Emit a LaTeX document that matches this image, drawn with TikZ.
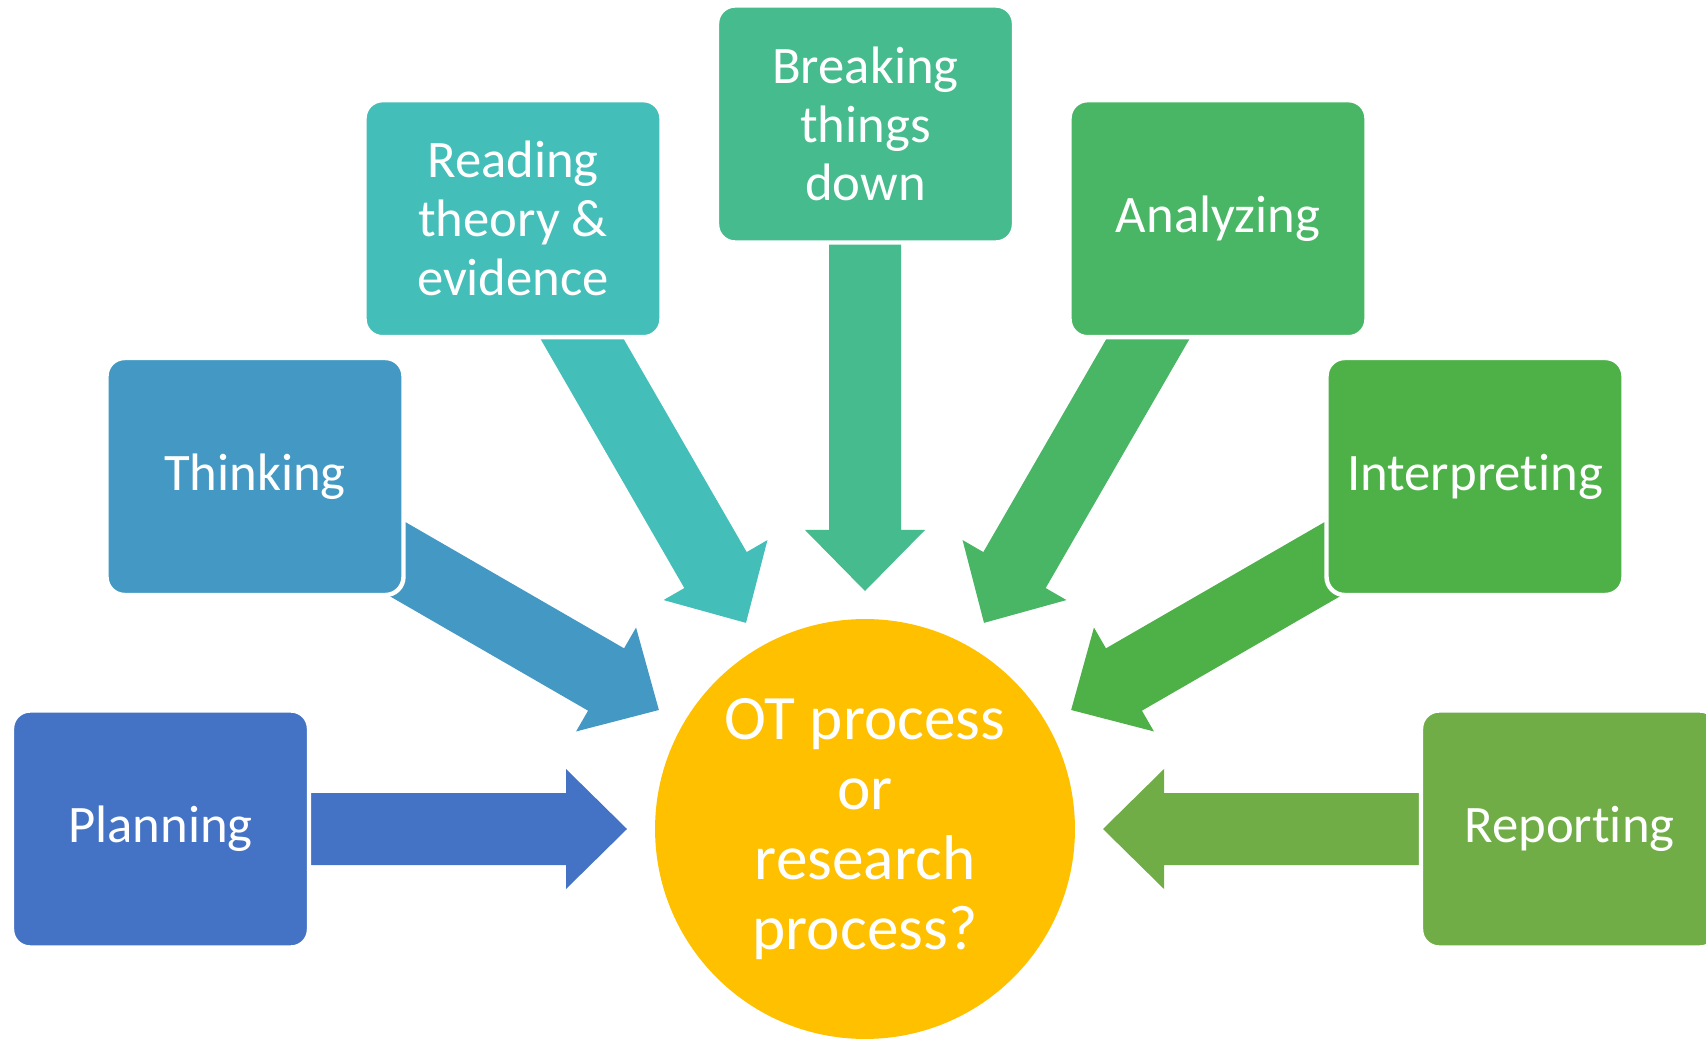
\documentclass[tikz,border=0pt]{standalone}
\usepackage{fontspec}
\setmainfont{Carlito}[Ligatures={NoCommon}]
\usepackage{xcolor}
\usepackage{tikz}
\usetikzlibrary{positioning,calc}

\definecolor{cPlan}{HTML}{4472C4}
\definecolor{cThink}{HTML}{4399C3}
\definecolor{cRead}{HTML}{44BEB9}
\definecolor{cBreak}{HTML}{45BB8E}
\definecolor{cAnal}{HTML}{48B664}
\definecolor{cInter}{HTML}{4EB148}
\definecolor{cRep}{HTML}{70AD47}
\definecolor{cHub}{HTML}{FFC000}

\tikzset{
    stage/.style={rectangle, rounded corners=0.36cm, draw=white, line width=2.5pt,
        minimum width=5.94cm, minimum height=4.74cm, inner sep=0pt, align=center,
        text=white, font=\fontsize{30}{33.5}\selectfont},
    hubnode/.style={circle, fill=cHub, minimum size=8.4cm, inner sep=0pt, align=center,
        text=white, font=\fontsize{36}{40}\selectfont}
}

\begin{document}
\begin{tikzpicture}[x=0.02cm, y=0.02cm]
    \useasboundingbox (0,0) rectangle (1706,1038);
    \clip (0,0) rectangle (1706,1038);

    % Centre
    \node[hubnode] (hub) at (865,209) {OT process\\or\\research\\process?};

    % Block arrows pointing at the centre
    \foreach \ang/\col in {180/cPlan, 150/cThink, 120/cRead, 90/cBreak, 60/cAnal, 30/cInter, 0/cRep}{
        \begin{scope}[shift={(hub.center)}, rotate=\ang]
            \fill[\col] (238,0) -- (299,60) -- (299,36) -- (610,36) -- (610,-36) -- (299,-36) -- (299,-60) -- cycle;
        \end{scope}
    }

    % Stages
    \node[stage, fill=cPlan] (plan) at (160.5,209) {Planning};
    \node[stage, fill=cThink] (think) at (255,561.5) {Thinking};
    \node[stage, fill=cRead] (read) at (513,819.3) {Reading\\theory \&\\evidence};
    \node[stage, fill=cBreak] (break) at (865.5,914) {Breaking\\things\\down};
    \node[stage, fill=cAnal] (anal) at (1218,819.3) {Analyzing};
    \node[stage, fill=cInter] (inter) at (1475,561.5) {Interpreting};
    \node[stage, fill=cRep] (rep) at (1569.5,209) {Reporting};

\end{tikzpicture}
\end{document}
